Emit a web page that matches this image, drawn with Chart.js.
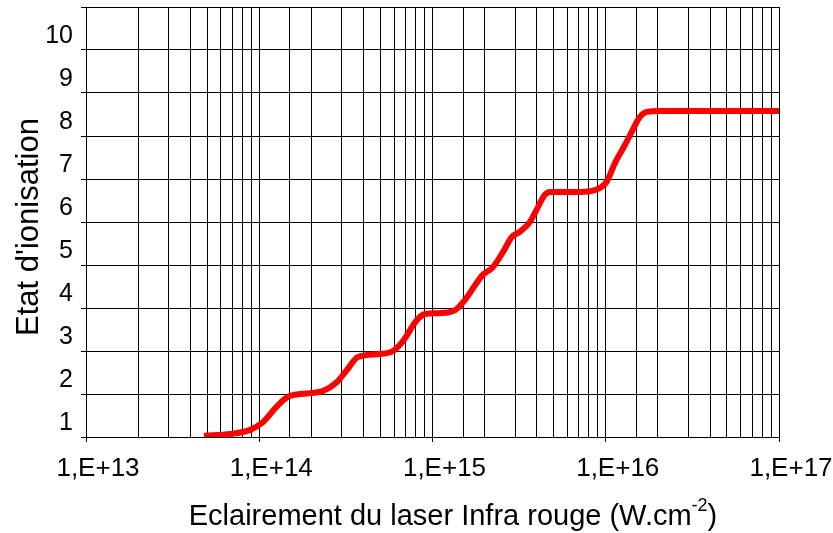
<!DOCTYPE html>
<html lang="fr">
<head>
  <meta charset="UTF-8" />
  <title>Etat d'ionisation</title>
  <script src="https://cdn.jsdelivr.net/npm/chart.js"></script>
  <style>
    html, body {
      margin: 0;
      padding: 0;
      background: #fff;
    }
    #wrap {
      width: 833px;
      height: 533px;
    }
  </style>
</head>
<body>

<div id="wrap"><canvas id="chart" width="833" height="533"></canvas></div>

<script>
  // intensité (W/cm2) et état d'ionisation
  const eclairement = [4.8e13, 6.8e13, 8.8e13, 1.04e14, 1.27e14, 1.46e14, 1.96e14, 2.33e14, 2.81e14, 3.21e14,
    3.71e14, 4.97e14, 5.91e14, 6.75e14, 8.13e14, 9.04e14, 1.10e15, 1.35e15, 1.54e15, 1.76e15,
    1.95e15, 2.23e15, 2.55e15, 2.87e15, 3.19e15, 3.65e15, 3.90e15, 4.45e15, 4.76e15, 7.09e15,
    8.65e15, 1.01e16, 1.13e16, 1.29e16, 1.43e16, 1.57e16, 1.73e16, 2.05e16, 1e17];
  const etat = [0.03, 0.07, 0.16, 0.33, 0.72, 0.93, 1.02, 1.07, 1.28, 1.56,
    1.86, 1.93, 2.0, 2.23, 2.72, 2.86, 2.88, 2.95, 3.19, 3.53,
    3.77, 3.95, 4.30, 4.65, 4.77, 5.0, 5.21, 5.63, 5.70, 5.70,
    5.74, 5.93, 6.37, 6.79, 7.14, 7.44, 7.56, 7.58, 7.58];

  const xTickLabels = ['1,E+13', '1,E+14', '1,E+15', '1,E+16', '1,E+17'];
  const yTickLabels = ['1', '2', '3', '4', '5', '6', '7', '8', '9', '10', ''];

  const FONT = '"Liberation Sans", Arial, sans-serif';

  function decade(v) {
    const e = Math.log10(v);
    return Math.abs(e - Math.round(e)) < 1e-6 ? Math.round(e) : null;
  }

  // titres des axes (avec exposant)
  const titles = {
    id: 'titles',
    afterDraw(chart) {
      const ctx = chart.ctx;
      ctx.save();
      ctx.fillStyle = '#000';
      ctx.textBaseline = 'alphabetic';

      // axe x
      const main = 'Eclairement du laser Infra rouge (W.cm';
      const sup = '-2';
      const end = ')';
      ctx.font = '29px ' + FONT;
      const wMain = ctx.measureText(main).width;
      const wEnd = ctx.measureText(end).width;
      ctx.font = '18px ' + FONT;
      const wSup = ctx.measureText(sup).width;
      let x = 453 - (wMain + wSup + wEnd) / 2;
      ctx.textAlign = 'left';
      ctx.font = '29px ' + FONT;
      ctx.fillText(main, x, 525);
      ctx.font = '18px ' + FONT;
      ctx.fillText(sup, x + wMain, 511);
      ctx.font = '29px ' + FONT;
      ctx.fillText(end, x + wMain + wSup, 525);

      // axe y
      ctx.translate(38, 227);
      ctx.rotate(-Math.PI / 2);
      ctx.textAlign = 'center';
      ctx.font = '31px ' + FONT;
      ctx.fillText("Etat d'ionisation", 0, 0);
      ctx.restore();
    }
  };

  const points = eclairement.map((v, i) => ({ x: v, y: etat[i] }));

  new Chart(document.getElementById('chart'), {
    type: 'line',
    data: {
      datasets: [{
        data: points,
        borderColor: '#ff0000',
        borderWidth: 6,
        pointRadius: 0,
        fill: false,
        cubicInterpolationMode: 'monotone'
      }]
    },
    options: {
      responsive: false,
      animation: false,
      layout: { padding: { top: 7, right: 54, left: 0, bottom: 0 } },
      plugins: {
        legend: { display: false },
        tooltip: { enabled: false }
      },
      scales: {
        x: {
          type: 'logarithmic',
          min: 1e13,
          max: 1e17,
          afterFit: s => {
            s.height = 96;
            s.paddingLeft = 0;
            s.paddingRight = 0;
          },
          border: { color: '#000', width: 1 },
          grid: {
            color: '#000',
            lineWidth: 1,
            tickLength: 5,
            tickColor: c => decade(c.tick.value) !== null ? '#000' : 'rgba(0,0,0,0)'
          },
          ticks: {
            autoSkip: false,
            maxRotation: 0,
            padding: 11,
            labelOffset: 12,
            color: '#000',
            font: { family: FONT, size: 26 },
            callback: v => {
              const e = decade(v);
              return e === null ? '' : xTickLabels[e - 13];
            }
          }
        },
        y: {
          min: 0,
          max: 10,
          afterFit: s => {
            s.width = 86;
            s.paddingTop = 0;
            s.paddingBottom = 0;
          },
          border: { color: '#000', width: 1 },
          grid: {
            color: '#000',
            lineWidth: 1,
            tickLength: 5,
            tickColor: '#000'
          },
          ticks: {
            stepSize: 1,
            padding: 8,
            labelOffset: -14,
            color: '#000',
            font: { family: FONT, size: 25 },
            callback: v => yTickLabels[v]
          }
        }
      }
    },
    plugins: [titles]
  });
</script>

</body>
</html>
